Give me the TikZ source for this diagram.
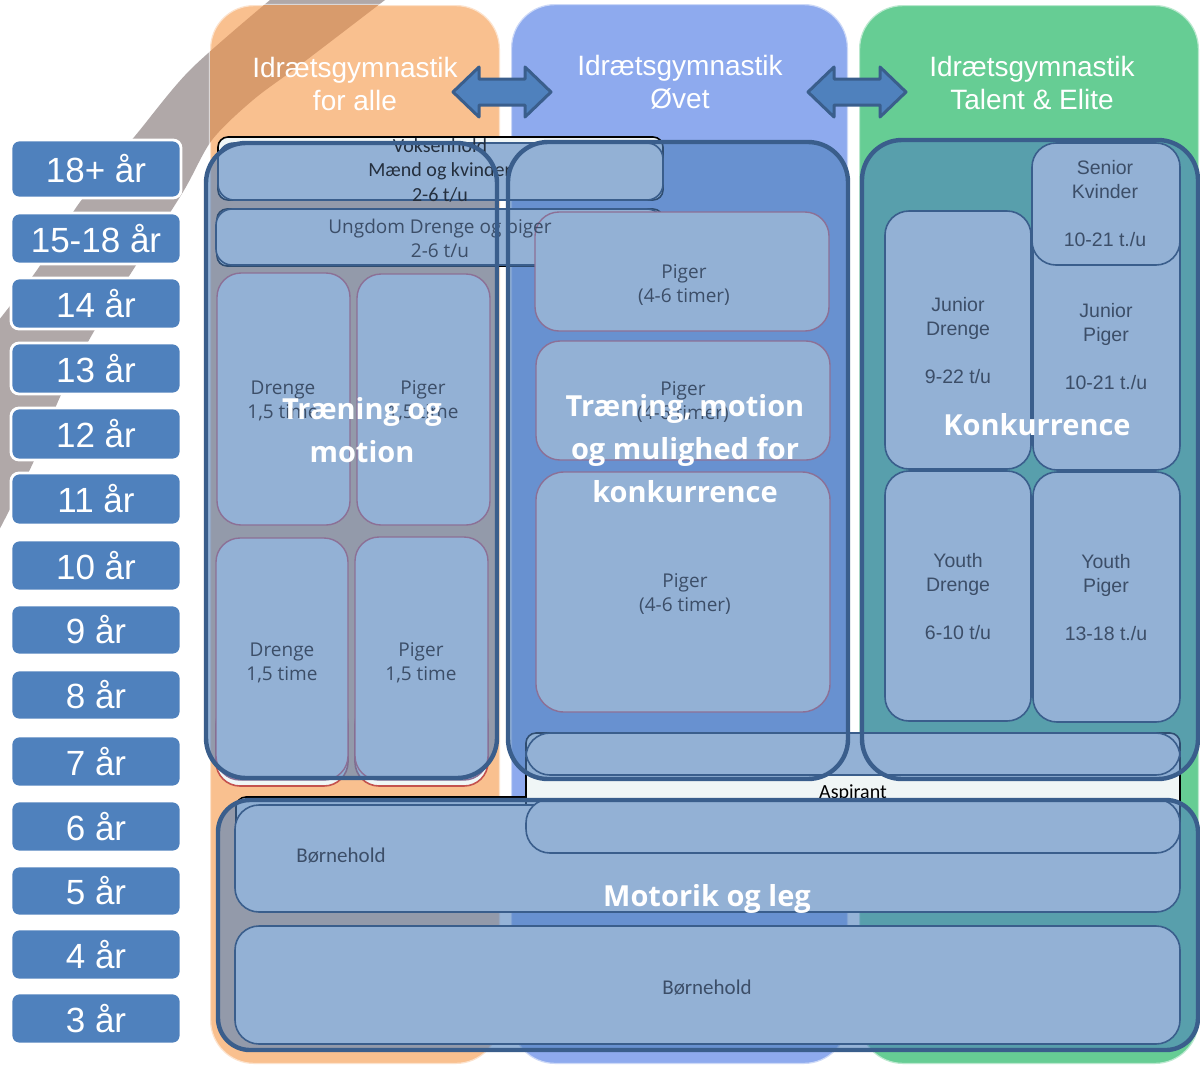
\documentclass[tikz,border=0pt]{standalone}
\usepackage{fontspec}
\setmainfont{Liberation Sans}
\newfontfamily\osans{Open Sans}
\newfontfamily\carl{Carlito}
\definecolor{orangeP}{RGB}{249,192,143}
\definecolor{blueP}{RGB}{142,170,238}
\definecolor{greenP}{RGB}{102,205,148}
\definecolor{stripeG}{RGB}{176,168,168}
\definecolor{stripeO}{RGB}{216,155,108}
\definecolor{accent}{RGB}{79,129,189}
\definecolor{edgeB}{RGB}{58,94,140}
\definecolor{innerB}{RGB}{147,177,213}
\definecolor{mauve}{RGB}{140,112,150}
\definecolor{slate}{RGB}{60,78,104}
\definecolor{whiteBox}{RGB}{240,246,246}
\definecolor{redE}{RGB}{196,82,78}
\newcommand{\stripepath}[1]{\fill[#1] plot[smooth, tension=0.5] coordinates {(385,0) (300,65) (253,100) (212,140) (183,192) (133,270) (93,333) (60,397) (33,463) (-5,538)} -- plot[smooth, tension=0.5] coordinates {(-5,325) (37,270) (80,202) (135,136) (190,70) (270,0)} -- cycle;}
\newcommand{\dblarrow}[3]{\filldraw[dblarr] (#1,#3) -- ({#1+26},{#3-25}) -- ({#1+26},{#3-13}) -- ({#2-26},{#3-13}) -- ({#2-26},{#3-25}) -- (#2,#3) -- ({#2-26},{#3+25}) -- ({#2-26},{#3+13}) -- ({#1+26},{#3+13}) -- ({#1+26},{#3+25}) -- cycle;}
\begin{document}
\begin{tikzpicture}[x=0.5pt,y=-0.5pt,
  panel/.style={draw=white, draw opacity=0.55, line width=1.2pt, rounded corners=22pt},
  hdr/.style={text=white, align=center, font=\fontsize{14}{16.5}\selectfont, inner sep=0},
  agebox/.style={fill=accent, draw=white, line width=1.4pt, rounded corners=4pt},
  agetxt/.style={text=white, font=\fontsize{17.5}{20}\selectfont, inner sep=0},
  dblarr/.style={fill=accent, draw=edgeB, line width=1.5pt, line join=round},
  wbox/.style={fill=whiteBox, draw=black, line width=0.8pt, rounded corners=5pt},
  cfill/.style={fill=accent, fill opacity=0.6},
  cedge/.style={draw=edgeB, line width=2.2pt},
  ibox/.style={fill=innerB, draw=edgeB, line width=0.8pt},
  mbox/.style={fill=innerB, draw=mauve, line width=0.7pt},
  otxt/.style={text=slate, align=center, inner sep=0, font=\osans\fontsize{9.5}{12}\selectfont},
  atxt/.style={text=slate, align=center, inner sep=0, font=\fontsize{9.75}{12}\selectfont},
  ctxt/.style={align=center, inner sep=0, font=\carl\fontsize{10}{12.25}\selectfont},
  big/.style={text=white, align=center, inner sep=0, font=\osans\bfseries\fontsize{14.5}{21.5}\selectfont}
]
\useasboundingbox (0,0) rectangle (1200,1067);
\fill[white] (0,0) rectangle (1200,1067);
% background stripe
\stripepath{stripeG}
% panels
\filldraw[panel, fill=orangeP] (210,5) rectangle (500,1064);
\filldraw[panel, fill=blueP] (511,4) rectangle (848,1064);
\filldraw[panel, fill=greenP] (859,5) rectangle (1199,1064);
\begin{scope}
\clip[rounded corners=22pt] (210,5) rectangle (500,1064);
\stripepath{stripeO}
\end{scope}
% headers
\node[hdr] (h1) at (355,84) {Idrætsgymnastik\\for alle};
\node[hdr] (h2) at (680,82) {Idrætsgymnastik\\Øvet};
\node[hdr] (h3) at (1032,83) {Idrætsgymnastik\\Talent \& Elite};
\dblarrow{453}{551}{92}
\dblarrow{808}{906}{92}
% age labels
\foreach \t/\a/\b [count=\i] in {18+ år/140/198, 15-18 år/213/264, 14 år/278/329, 13 år/343/394, 12 år/408/460, 11 år/473/525, 10 år/540/591, 9 år/605/655, 8 år/670/720, 7 år/736/787, 6 år/801/852, 5 år/866/916, 4 år/929/980, 3 år/993/1044}{
  \draw[agebox] (11,\a) rectangle (181,\b);
  \node[agetxt] (age\i) at (96,{(\a+\b)/2}) {\t};
}
% underlying white boxes
\draw[wbox] (218,137) rectangle (663,200);
\draw[wbox] (217,209) rectangle (663,266);
\draw[wbox, draw=redE, rounded corners=12pt] (216,700) rectangle (348,786);
\draw[wbox, draw=redE, rounded corners=12pt] (355,700) rectangle (488,786);
\draw[wbox] (236,797) rectangle (1180,840);
\draw[wbox] (526,733) rectangle (1180,850);
\node[ctxt, text=black] (asp) at (853,793) {Aspirant};
% container fills
\fill[cfill, rounded corners=20pt] (206,143) rectangle (497,778);
\fill[cfill, rounded corners=20pt] (508,142) rectangle (848,779);
\fill[cfill, rounded corners=20pt] (862,140) rectangle (1198,779);
\fill[cfill, rounded corners=16pt] (218,800) rectangle (1198,1050);
% inner boxes
\filldraw[ibox, rounded corners=8pt] (218,143) rectangle (663,200);
\filldraw[ibox, rounded corners=8pt] (216,209) rectangle (663,265);
\filldraw[mbox, rounded corners=12pt] (217,273) rectangle (350,525);
\filldraw[mbox, rounded corners=12pt] (357,274) rectangle (490,525);
\filldraw[mbox, rounded corners=12pt] (216,538) rectangle (348,780);
\filldraw[mbox, rounded corners=12pt] (355,537) rectangle (488,780);
\filldraw[mbox, rounded corners=12pt] (535,212) rectangle (829,331);
\filldraw[mbox, rounded corners=12pt] (536,341) rectangle (830,460);
\filldraw[mbox, rounded corners=14pt] (536,472) rectangle (830,712);
\filldraw[ibox, rounded corners=12pt] (885,211) rectangle (1031,469);
\filldraw[ibox, rounded corners=12pt] (1033,215) rectangle (1180,470);
\filldraw[ibox, rounded corners=12pt] (1032,143) rectangle (1180,265);
\filldraw[ibox, rounded corners=12pt] (885,471) rectangle (1031,721);
\filldraw[ibox, rounded corners=12pt] (1033,472) rectangle (1180,722);
\filldraw[ibox, rounded corners=12pt] (235,805) rectangle (1180,912);
\filldraw[ibox, rounded corners=12pt] (235,926) rectangle (1180,1044);
\filldraw[ibox, rounded corners=12pt] (526,733) rectangle (1180,775);
\filldraw[ibox, rounded corners=12pt] (526,799) rectangle (1180,853);
% small texts
\node[ctxt, text=slate!60!black] (voks) at (440,170) {Voksenhold\\Mænd og kvinder\\2-6 t/u};
\node[otxt] (ung) at (440,238) {Ungdom Drenge og piger\\2-6 t/u};
\node[otxt] (d1) at (283,401) {Drenge\\1,5 time};
\node[otxt] (p1) at (423,401) {Piger\\1,5 time};
\node[otxt] (d2) at (282,663) {Drenge\\1,5 time};
\node[otxt] (p2) at (421,663) {Piger\\1,5 time};
\node[otxt] (m1) at (684,285) {Piger\\(4-6 timer)};
\node[otxt] (m2) at (683,402) {Piger\\(4-6 timer)};
\node[otxt] (m3) at (685,594) {Piger\\(4-6 timer)};
\node[atxt] (sk) at (1105,204) {Senior\\Kvinder\\[12pt]10-21 t./u};
\node[atxt] (jd) at (958,341) {Junior\\Drenge\\[12pt]9-22 t/u};
\node[atxt] (jp) at (1106,347) {Junior\\Piger\\[12pt]10-21 t./u};
\node[atxt] (yd) at (958,597) {Youth\\Drenge\\[12pt]6-10 t/u};
\node[atxt] (yp) at (1106,598) {Youth\\Piger\\[12pt]13-18 t./u};
\node[ctxt, text=slate, font=\carl\fontsize{10.5}{12}\selectfont] (b1) at (341,856) {Børnehold};
\node[ctxt, text=slate, font=\carl\fontsize{10.5}{12}\selectfont] (b2) at (707,988) {Børnehold};
% container borders
\draw[cedge, rounded corners=20pt] (206,143) rectangle (497,778);
\draw[cedge, rounded corners=20pt] (508,142) rectangle (848,779);
\draw[cedge, rounded corners=20pt] (862,140) rectangle (1198,779);
\draw[cedge, rounded corners=16pt] (218,800) rectangle (1198,1050);
% big labels
\node[big] (l1) at (362,430) {Træning og\\motion};
\node[big] (l2) at (685,449) {Træning, motion\\og mulighed for\\konkurrence};
\node[big] (l3) at (1037,425) {Konkurrence};
\node[big] (l4) at (707,899) {Motorik og leg};
\end{tikzpicture}
\end{document}
